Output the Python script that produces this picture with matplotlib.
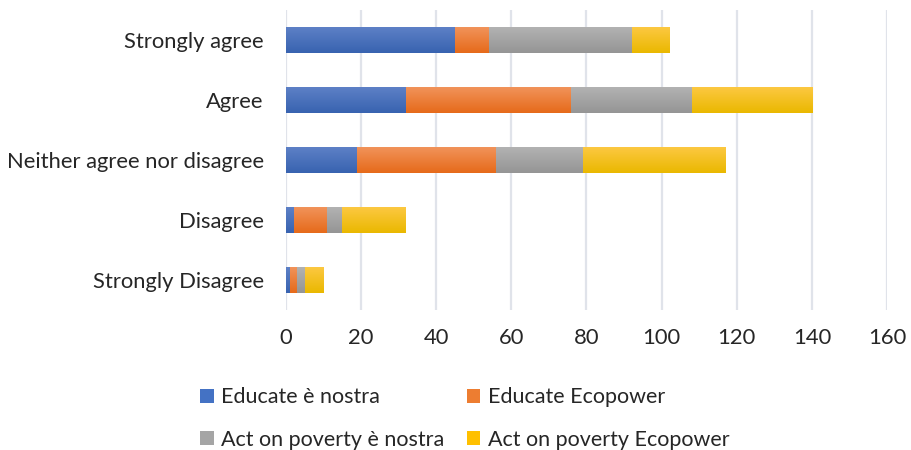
import numpy as np
import matplotlib
matplotlib.use("Agg")
import matplotlib.pyplot as plt
from matplotlib.colors import LinearSegmentedColormap
from matplotlib.patches import Patch

plt.rcParams['font.family'] = ['Lato', 'DejaVu Sans']

categories = ["Strongly Disagree", "Disagree", "Neither agree nor disagree", "Agree", "Strongly agree"]
series_names = ["Educate è nostra", "Educate Ecopower", "Act on poverty è nostra", "Act on poverty Ecopower"]
educate_enostra = [1, 2, 19, 32, 45]
educate_ecopower = [2, 9, 37, 44, 9]
poverty_enostra = [2, 4, 23, 32, 38]
poverty_ecopower = [5, 17, 38, 32, 10]
x_ticks = [0, 20, 40, 60, 80, 100, 120, 140, 160]

series = [educate_enostra, educate_ecopower, poverty_enostra, poverty_ecopower]
# (top, bottom) shades for each series' vertical gradient
shades = [("#5d80c6", "#3863b0"), ("#f1935a", "#e66a1a"),
          ("#b2b2b2", "#959595"), ("#fcc841", "#eab800")]
flat = ["#4472c4", "#ed7d31", "#a5a5a5", "#ffc000"]

fig = plt.figure(figsize=(9.12, 4.5), dpi=100)
ax = fig.add_axes([286 / 912, 140 / 450, 601 / 912, 300 / 450])

y = np.arange(len(categories))
left = np.zeros(len(categories))
for vals, (top, bot), name in zip(series, shades, series_names):
    bars = ax.barh(y, vals, left=left, height=0.42, color="none", linewidth=0, label=name)
    cmap = LinearSegmentedColormap.from_list(name, [bot, top])
    grad = np.linspace(0, 1, 64).reshape(-1, 1)
    for b in bars:
        x0, y0, w, h = b.get_x(), b.get_y(), b.get_width(), b.get_height()
        if w <= 0:
            continue
        ax.imshow(grad, extent=(x0, x0 + w, y0, y0 + h), origin="lower",
                  cmap=cmap, aspect="auto", interpolation="bilinear", zorder=2)
    left += np.array(vals)

ax.set_xlim(0, 160)
ax.set_ylim(-0.5, 4.5)
ax.set_xticks(x_ticks)
ax.set_xticklabels([str(t) for t in x_ticks])
ax.set_yticks(y)
ax.set_yticklabels(categories)
ax.tick_params(axis="both", length=0, labelsize=15.8, colors="#262626")
ax.tick_params(axis="y", pad=16)
ax.tick_params(axis="x", pad=13)
ax.grid(axis="x", color="#e0e3ea", linewidth=1.6, zorder=0)
ax.set_axisbelow(True)
for s in ax.spines.values():
    s.set_visible(False)

handles = [Patch(facecolor=c, edgecolor="none") for c in flat]
order = [0, 2, 1, 3]
fig.legend([handles[i] for i in order], [series_names[i] for i in order],
           ncol=2, loc="upper left", bbox_to_anchor=(181 / 912, 1 - 368 / 450),
           frameon=False, fontsize=15.5, handlelength=0.62, handleheight=0.62,
           handletextpad=0.35, columnspacing=1.05, labelspacing=1.05,
           labelcolor="#262626")

fig.savefig("out.png", dpi=100)
